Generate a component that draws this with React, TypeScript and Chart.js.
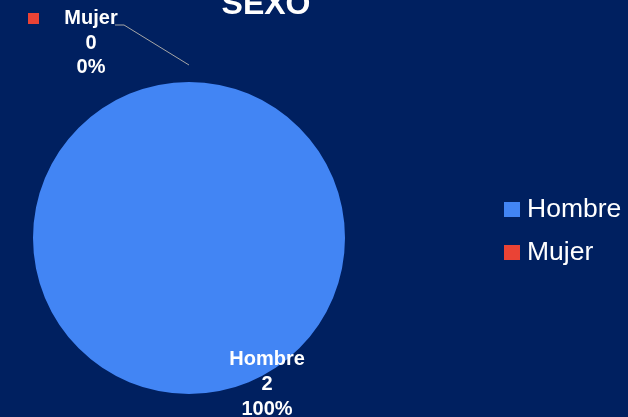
import React, { useEffect, useRef } from "react";
import Chart from "chart.js/auto";

const categories = ["Hombre", "Mujer"];
const values = [2, 0];
const colors = ["#4285F4", "#EA4335"];
const titleText = "SEXO";

const BG = "#002060";
const FONT = "'Liberation Sans', Arial, sans-serif";

const overlay = {
  id: "overlay",
  beforeDraw(chart: any) {
    const ctx = chart.ctx;
    ctx.save();
    ctx.fillStyle = BG;
    ctx.fillRect(0, 0, chart.width, chart.height);
    ctx.restore();
  },
  afterDraw(chart: any) {
    const ctx = chart.ctx;
    const meta = chart.getDatasetMeta(0);
    const arc = meta.data[0];
    const cx = arc.x;
    const cy = arc.y;
    const r = arc.outerRadius;
    const total = values.reduce((a, b) => a + b, 0);
    const pct = (v: number) => Math.round((v / total) * 100) + "%";
    ctx.save();
    // title
    ctx.fillStyle = "#FFFFFF";
    ctx.font = `bold 32px ${FONT}`;
    ctx.textAlign = "center";
    ctx.textBaseline = "alphabetic";
    ctx.fillText(titleText, 266, 14);

    // Hombre label (inside bottom)
    ctx.font = `bold 20px ${FONT}`;
    ctx.textBaseline = "middle";
    const hx = cx + r * 0.5;
    const hy = cy + r * 0.942;
    ctx.fillText(categories[0], hx, hy - 25);
    ctx.fillText(String(values[0]), hx, hy);
    ctx.fillText(pct(values[0]), hx, hy + 25);

    // Mujer label with leader line
    const ax = cx;
    const ay = cy - r - 17;
    ctx.strokeStyle = "#A6A6A6";
    ctx.lineWidth = 1;
    ctx.beginPath();
    ctx.moveTo(ax, ay);
    ctx.lineTo(ax - 65, ay - 40);
    ctx.lineTo(ax - 74, ay - 40);
    ctx.stroke();
    const mx = ax - 98;
    const my = ay - 22;
    ctx.fillStyle = colors[1];
    ctx.fillRect(mx - 63, my - 30, 11, 11);
    ctx.fillStyle = "#FFFFFF";
    ctx.fillText(categories[1], mx, my - 25);
    ctx.fillText(String(values[1]), mx, my);
    ctx.fillText(pct(values[1]), mx, my + 24);

    // legend
    ctx.font = `26.5px ${FONT}`;
    ctx.textAlign = "left";
    ctx.textBaseline = "alphabetic";
    categories.forEach((c, i) => {
      const base = 217 + i * 43;
      ctx.fillStyle = colors[i];
      ctx.fillRect(504, base - 15, 16, 15);
      ctx.fillStyle = "#FFFFFF";
      ctx.fillText(c, 527, base);
    });
    ctx.restore();
  },
};

export default function App() {
  const ref = useRef<HTMLCanvasElement>(null);
  useEffect(() => {
    if (!ref.current) return;
    const chart = new Chart(ref.current, {
      type: "pie",
      data: {
        labels: categories,
        datasets: [
          {
            data: values,
            backgroundColor: colors,
            borderWidth: 0,
          },
        ],
      },
      options: {
        responsive: false,
        animation: false,
        devicePixelRatio: 1,
        layout: { padding: { left: 33, right: 283, top: 82, bottom: 23 } },
        plugins: {
          legend: { display: false },
          title: { display: false },
          tooltip: { enabled: false },
        },
      },
      plugins: [overlay],
    });
    return () => chart.destroy();
  }, []);
  return (
    <div style={{ position: "fixed", left: 0, top: 0, width: 628, height: 417, background: BG }}>
      <canvas ref={ref} width={628} height={417} style={{ display: "block", width: 628, height: 417 }} />
    </div>
  );
}
